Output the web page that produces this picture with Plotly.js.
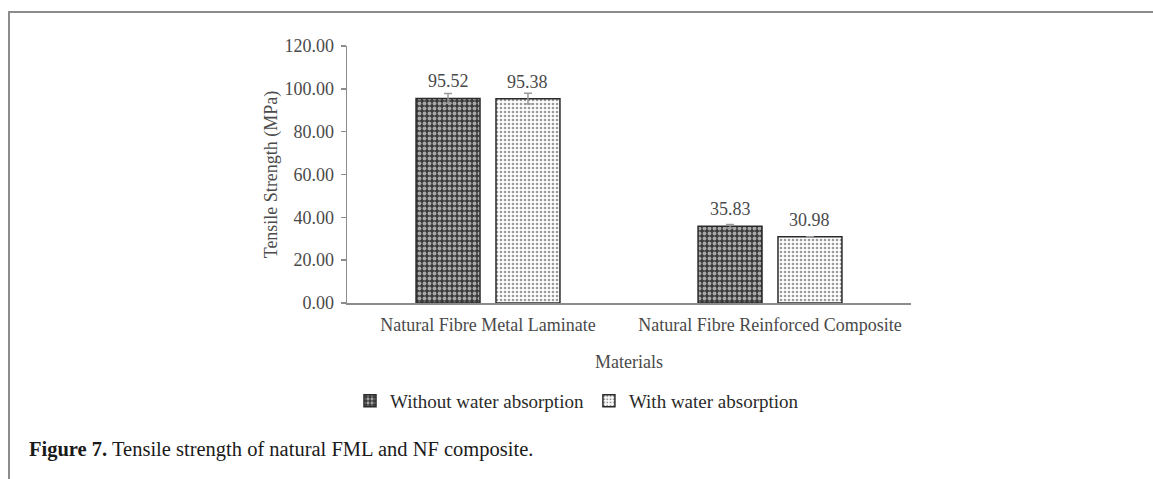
<!DOCTYPE html>
<html>
<head>
<meta charset="utf-8">
<script src="https://cdn.plot.ly/plotly-3.0.1.min.js"></script>
<style>
  html, body { margin: 0; padding: 0; background: #fff; }
  #wrap { position: relative; width: 1153px; height: 479px; overflow: hidden; }
  #frame { position: absolute; left: 8px; top: 11px; width: 1160px; height: 480px;
           border-top: 2px solid #8c8c8c; border-left: 2px solid #8c8c8c; pointer-events: none; }
  #chart { position: absolute; left: 0; top: 0; width: 1153px; height: 479px; }
</style>
</head>
<body>
<div id="wrap">
  <div id="chart"></div>
  <div id="frame"></div>
</div>
<script>
// ---- data ----
const categories = ["Natural Fibre Metal Laminate", "Natural Fibre Reinforced Composite"];
const seriesNames = ["Without water absorption", "With water absorption"];
const withoutWater = [95.52, 35.83];
const withWater = [95.38, 30.98];
const withoutWaterErr = [2.3, 0.8];
const withWaterErr = [2.5, 0];
const yTicks = [0, 20, 40, 60, 80, 100, 120];
const captionBold = "Figure 7.";
const captionText = " Tensile strength of natural FML and NF composite.";
const yTitle = "Tensile Strength (MPa)";
const xTitle = "Materials";

// ---- layout constants ----
const W = 1153, H = 479;
const margin = {l: 347, r: 242, t: 46, b: 176};
const plotW = W - margin.l - margin.r;
const plotH = H - margin.t - margin.b;
const bargap = 0.433, bargroupgap = 0.2;
const font = "'Liberation Serif', 'Times New Roman', serif";
const textColor = "#4a4a4a";

const traces = [
  {
    type: "bar", name: seriesNames[0], x: categories, y: withoutWater,
    error_y: {type: "data", array: withoutWaterErr, visible: true, color: "#9a9a9a", thickness: 1.5, width: 4},
    marker: {
      color: "#3c3c3c",
      line: {color: "#2a2a2a", width: 1.5},
      pattern: {shape: ".", bgcolor: "#3a3a3a", fgcolor: "#a8a8a8", size: 5, solidity: 0.45, fillmode: "replace"}
    },
    hoverinfo: "skip"
  },
  {
    type: "bar", name: seriesNames[1], x: categories, y: withWater,
    error_y: {type: "data", array: withWaterErr, visible: true, color: "#9a9a9a", thickness: 1.5, width: 4},
    marker: {
      color: "#ffffff",
      line: {color: "#2a2a2a", width: 1.5},
      pattern: {shape: ".", bgcolor: "#ffffff", fgcolor: "#9a9a9a", size: 4, solidity: 0.35, fillmode: "replace"}
    },
    hoverinfo: "skip"
  }
];

// value labels above bars
const groupW = 1 - bargap;
const offset = groupW / 4;
const annotations = [];
[withoutWater, withWater].forEach((vals, si) => {
  vals.forEach((v, ci) => {
    annotations.push({
      xref: "x", yref: "y", x: ci + (si === 0 ? -offset : offset), y: v,
      text: v.toFixed(2), showarrow: false, yanchor: "bottom", yshift: 5,
      font: {family: font, size: 18, color: textColor}
    });
  });
});
// caption
annotations.push({
  xref: "paper", yref: "paper",
  x: (27 - margin.l) / plotW, y: (H - margin.b - 449) / plotH,
  xanchor: "left", yanchor: "middle", showarrow: false,
  text: "<b>" + captionBold + "</b>" + captionText,
  font: {family: font, size: 20.5, color: "#1a1a1a"}
});

const layout = {
  width: W, height: H,
  margin: margin,
  paper_bgcolor: "rgba(0,0,0,0)",
  plot_bgcolor: "rgba(0,0,0,0)",
  barmode: "group", bargap: bargap, bargroupgap: bargroupgap,
  showlegend: true,
  legend: {
    orientation: "h", x: (350 - margin.l) / plotW, xanchor: "left",
    y: (H - margin.b - 401) / plotH, yanchor: "middle",
    font: {family: font, size: 19, color: "#2a2a2a"},
    itemwidth: 30, tracegroupgap: 0
  },
  xaxis: {
    type: "category",
    showline: true, linecolor: "#8c8c8c", linewidth: 1.5,
    ticks: "", showgrid: false, zeroline: false,
    ticklabelstandoff: 5,
    tickfont: {family: font, size: 18, color: textColor},
    title: {text: xTitle, font: {family: font, size: 18, color: textColor}, standoff: 21},
    automargin: false
  },
  yaxis: {
    range: [0, 120], tickvals: yTicks, ticktext: yTicks.map(v => v.toFixed(2)),
    showline: true, linecolor: "#8c8c8c", linewidth: 1.5,
    ticks: "outside", ticklen: 5, tickcolor: "#8c8c8c", tickwidth: 1.5,
    ticklabelstandoff: 3,
    showgrid: false, zeroline: false,
    tickfont: {family: font, size: 18, color: textColor},
    title: {text: yTitle, font: {family: font, size: 18, color: textColor}},
    automargin: false
  },
  annotations: annotations
};

Plotly.newPlot("chart", traces, layout, {displayModeBar: false, staticPlot: true});
</script>
</body>
</html>
